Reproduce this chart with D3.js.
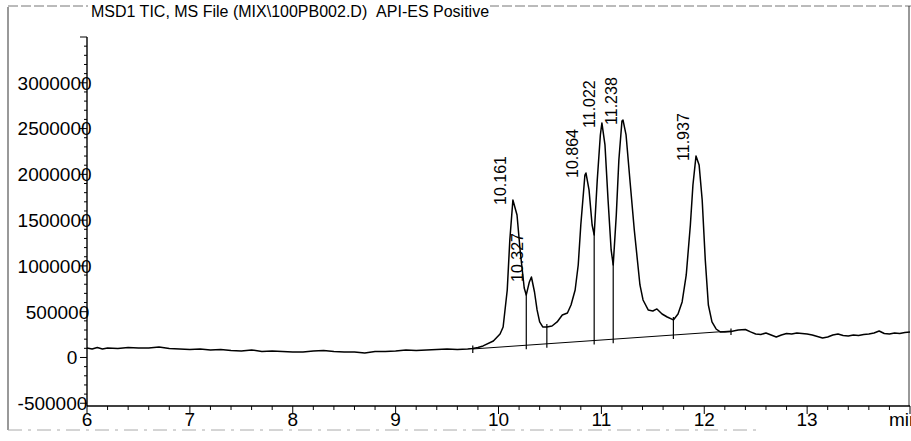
<!DOCTYPE html>
<html><head><meta charset="utf-8">
<script src="https://cdn.jsdelivr.net/npm/d3@7"></script>
<style>
body{margin:0;background:#fff}
text{font-family:"Liberation Sans",Arial,Helvetica,sans-serif;fill:#000}
</style>
</head><body><svg id="c" width="911" height="441"></svg>
<script>
// ---- data ----
const titleText = "MSD1 TIC, MS File (MIX\\100PB002.D)\u00a0\u00a0API-ES Positive";
const xUnit = "min";
const times = [6.00,6.05,6.10,6.15,6.20,6.30,6.40,6.50,6.60,6.70,6.80,6.90,7.00,7.10,7.20,7.30,7.40,7.50,7.60,7.70,7.80,7.90,8.00,
  8.10,8.20,8.30,8.40,8.50,8.60,8.70,8.80,8.90,9.00,9.10,9.20,9.30,9.40,9.50,9.60,9.70,9.75,9.80,9.85,9.95,10.015,10.045,10.085,
  10.11,10.14,10.18,10.21,10.25,10.27,10.30,10.32,10.35,10.375,10.40,10.43,10.47,10.52,10.57,10.62,10.67,10.705,10.745,10.775,
  10.80,10.84,10.85,10.88,10.91,10.93,10.96,10.99,11.005,11.035,11.065,11.095,11.115,11.145,11.17,11.20,11.21,11.24,11.28,11.32,
  11.35,11.375,11.405,11.455,11.50,11.54,11.59,11.64,11.70,11.745,11.785,11.825,11.865,11.89,11.92,11.95,11.98,12.01,12.04,12.075,
  12.115,12.155,12.20,12.26,12.33,12.40,12.45,12.50,12.55,12.60,12.65,12.70,12.75,12.80,12.85,12.90,12.95,13.00,13.05,13.10,13.15,
  13.20,13.25,13.30,13.35,13.40,13.45,13.50,13.55,13.60,13.65,13.70,13.75,13.80,13.85,13.90,13.95,14.00];
const values = [104000,93000,109000,93000,104000,98000,109000,104000,104000,115000,98000,93000,87000,93000,82000,87000,76000,71000,82000,66000,71000,66000,60000,
  60000,71000,76000,66000,60000,60000,49000,66000,66000,71000,82000,76000,82000,87000,93000,87000,93000,98000,109000,126000,180000,257000,333000,737000,
  1283000,1720000,1556000,1174000,759000,683000,825000,879000,715000,519000,388000,333000,333000,344000,388000,464000,486000,573000,737000,1010000,
  1447000,1993000,2015000,1830000,1447000,1338000,1939000,2430000,2561000,2321000,1720000,1174000,1010000,1556000,2157000,2583000,2594000,2430000,1905000,1392000,
  1065000,792000,628000,519000,508000,530000,475000,442000,410000,475000,606000,901000,1447000,1884000,2201000,2103000,1720000,1065000,573000,388000,
  311000,279000,279000,284000,300000,306000,279000,257000,251000,268000,246000,224000,246000,262000,257000,268000,262000,257000,246000,229000,213000,
  224000,246000,257000,240000,235000,246000,240000,251000,257000,268000,289000,262000,257000,268000,262000,273000,279000];
const peakTimes  = [10.161, 10.327, 10.864, 11.022, 11.238, 11.937];
const peakLabels = ["10.161", "10.327", "10.864", "11.022", "11.238", "11.937"];
const peakHeights = [1720000, 879000, 2015000, 2561000, 2594000, 2201000];
const boundaryTimes = [9.75, 10.27, 10.47, 10.93, 11.115, 11.70, 12.26];
const baselineTimes = [9.75, 12.26];
const baselineValues = [93000, 289000];
const xTicks = [6, 7, 8, 9, 10, 11, 12, 13];
const yTicks = [-500000, 0, 500000, 1000000, 1500000, 2000000, 2500000, 3000000];

// ---- drawing ----
const svg = d3.select("#c");
const x = d3.scaleLinear().domain([6, 14]).range([87, 910]);
const y = d3.scaleLinear().domain([-530000, 3500000]).range([406, 37]);
const ink = "#000";

// outer frame (scan-like)
svg.append("line").attr("x1", 8).attr("x2", 8).attr("y1", 7).attr("y2", 430).attr("stroke", "#555").attr("stroke-width", 1.2);
svg.append("line").attr("x1", 8).attr("x2", 911).attr("y1", 6).attr("y2", 6).attr("stroke", "#777").attr("stroke-dasharray", "10,3").attr("stroke-width", 1);
svg.append("line").attr("x1", 8).attr("x2", 760).attr("y1", 430).attr("y2", 430).attr("stroke", "#aaa").attr("stroke-dasharray", "14,6,3,6").attr("stroke-width", 1);
svg.append("line").attr("x1", 909).attr("x2", 909).attr("y1", 6).attr("y2", 406).attr("stroke", "#333").attr("stroke-width", 1);

// title
svg.append("rect").attr("x", 88).attr("y", 0).attr("width", 402).attr("height", 20).attr("fill", "#fff");
svg.append("text").attr("x", 91).attr("y", 17).attr("font-size", 16).attr("xml:space", "preserve").text(titleText);

// y axis
svg.append("line").attr("x1", 87).attr("x2", 87).attr("y1", y(3500000)).attr("y2", 406).attr("stroke", ink).attr("stroke-width", 1.4);
const yMinor = d3.range(-500000, 3500001, 100000);
svg.selectAll(".ym").data(yMinor).join("line")
  .attr("x1", d => d % 500000 === 0 ? 80 : 84).attr("x2", 87)
  .attr("y1", d => y(d)).attr("y2", d => y(d)).attr("stroke", ink).attr("stroke-width", 1);
svg.selectAll(".yl").data(yTicks).join("text")
  .attr("x", d => 75 - String(d).length * 8.2)
  .attr("y", d => y(d)).attr("dy", "0.36em").attr("font-size", 19).text(d => String(d));

// x axis
svg.append("line").attr("x1", 87).attr("x2", 910).attr("y1", 406).attr("y2", 406).attr("stroke", ink).attr("stroke-width", 1.4);
const xMinor = d3.range(6, 14.001, 0.2).map(d => Math.round(d * 10) / 10);
svg.selectAll(".xm").data(xMinor).join("line")
  .attr("x1", d => x(d)).attr("x2", d => x(d))
  .attr("y1", 406).attr("y2", d => Math.abs(d - Math.round(d)) < 1e-6 ? 414 : 410)
  .attr("stroke", ink).attr("stroke-width", 1);
svg.selectAll(".xl").data(xTicks).join("text")
  .attr("x", d => x(d)).attr("y", 426).attr("text-anchor", "middle").attr("font-size", 19).text(d => d);
svg.append("text").attr("x", 889).attr("y", 426).attr("font-size", 19).text(xUnit);

// baseline of integration
svg.append("line")
  .attr("x1", x(baselineTimes[0])).attr("y1", y(baselineValues[0]))
  .attr("x2", x(baselineTimes[1])).attr("y2", y(baselineValues[1]))
  .attr("stroke", ink).attr("stroke-width", 1);
const baseAt = t => baselineValues[0] + (baselineValues[1] - baselineValues[0]) * (t - baselineTimes[0]) / (baselineTimes[1] - baselineTimes[0]);

// chromatogram
const pts = times.map((t, i) => [t, values[i]]);
svg.append("path").datum(pts)
  .attr("d", d3.line().x(d => x(d[0])).y(d => y(d[1])))
  .attr("fill", "none").attr("stroke", ink).attr("stroke-width", 1.5).attr("stroke-linejoin", "round");

// drop lines / boundary marks
boundaryTimes.forEach(t => {
  const i = d3.minIndex(times, tt => Math.abs(tt - t));
  const sv = values[i];
  svg.append("line").attr("x1", x(t)).attr("x2", x(t))
    .attr("y1", y(sv) - 3).attr("y2", y(baseAt(t)) + 4)
    .attr("stroke", ink).attr("stroke-width", 1.2);
});

// peak labels
svg.selectAll(".pl").data(peakTimes).join("text")
  .attr("transform", (d, i) => `translate(${x(d) - 9},${y(peakHeights[i]) + 5}) rotate(-90)`)
  .attr("font-size", 16).text((d, i) => peakLabels[i]);
</script>
</body></html>
